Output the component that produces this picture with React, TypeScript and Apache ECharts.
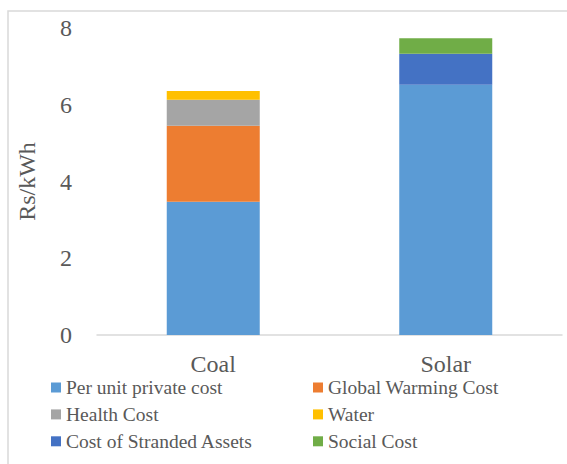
import React, { useEffect, useRef } from "react";
import * as echarts from "echarts";

const categories = ["Coal", "Solar"];
const yTicks = [0, 2, 4, 6, 8];

const privateCost = [3.47, 6.52];
const globalWarming = [1.98, 0];
const healthCost = [0.68, 0];
const waterCost = [0.23, 0];
const strandedAssets = [0, 0.81];
const socialCost = [0, 0.4];

const seriesNames = [
  "Per unit private cost",
  "Global Warming Cost",
  "Health Cost",
  "Water",
  "Cost of Stranded Assets",
  "Social Cost",
];
const seriesData = [privateCost, globalWarming, healthCost, waterCost, strandedAssets, socialCost];
const seriesColors = ["#5B9BD5", "#ED7D31", "#A5A5A5", "#FFC000", "#4472C4", "#70AD47"];

const FONT = "Liberation Serif";
const TEXT = "#595959";

export default function App() {
  const ref = useRef<HTMLDivElement>(null);

  useEffect(() => {
    if (!ref.current) return;
    const chart = echarts.init(ref.current, undefined, { renderer: "svg" });

    const legendStyle = {
      orient: "vertical" as const,
      itemWidth: 10,
      itemHeight: 10,
      itemGap: 6.9,
      padding: 0,
      icon: "rect",
      textStyle: { fontFamily: FONT, fontSize: 19.5, color: TEXT, lineHeight: 19 },
      selectedMode: false,
    };

    chart.setOption({
      animation: false,
      backgroundColor: "#ffffff",
      textStyle: { fontFamily: FONT, color: TEXT },
      graphic: [
        {
          type: "rect",
          shape: { x: 8, y: 11, width: 600, height: 500 },
          style: { fill: "none", stroke: "#D9D9D9", lineWidth: 1.5 },
          silent: true,
        },
      ],
      grid: { left: 97, right: 5, top: 28, bottom: 129 },
      legend: [
        { ...legendStyle, left: 51, top: 377.5, data: [seriesNames[0], seriesNames[2], seriesNames[4]] },
        { ...legendStyle, left: 313, top: 377.5, data: [seriesNames[1], seriesNames[3], seriesNames[5]] },
      ],
      xAxis: {
        type: "category",
        data: categories,
        axisLine: { lineStyle: { color: "#D9D9D9", width: 1.5 } },
        axisTick: { show: false },
        axisLabel: { fontFamily: FONT, fontSize: 24, lineHeight: 20, color: TEXT, margin: 19 },
      },
      yAxis: {
        type: "value",
        min: yTicks[0],
        max: yTicks[yTicks.length - 1],
        interval: 2,
        name: "Rs/kWh",
        nameLocation: "middle",
        nameGap: 58,
        nameTextStyle: { fontFamily: FONT, fontSize: 24, color: TEXT },
        axisLine: { show: false },
        axisTick: { show: false },
        splitLine: { show: false },
        axisLabel: { fontFamily: FONT, fontSize: 24, color: TEXT, margin: 25 },
      },
      series: seriesNames.map((name, i) => ({
        name,
        type: "bar",
        stack: "total",
        barWidth: "40%",
        data: seriesData[i],
        itemStyle: { color: seriesColors[i] },
      })),
    });

    return () => chart.dispose();
  }, []);

  return (
    <div
      ref={ref}
      style={{ position: "fixed", left: 0, top: 0, width: 567, height: 464 }}
    />
  );
}
